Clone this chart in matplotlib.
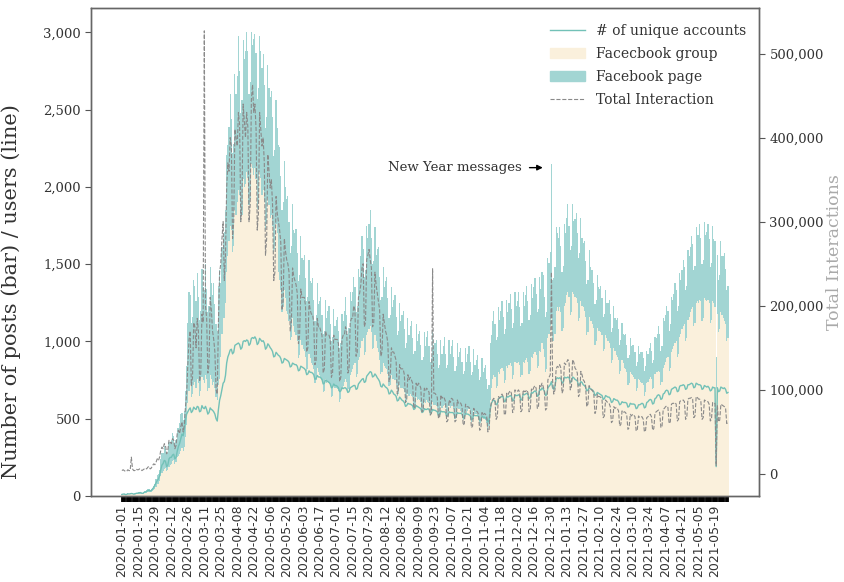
import numpy as np
import pandas as pd
import matplotlib
matplotlib.use("Agg")
import matplotlib.pyplot as plt
from matplotlib.lines import Line2D
from matplotlib.patches import Patch
from matplotlib.ticker import FuncFormatter

# daily counts from 2020-01-01, one line per week (Wed .. Tue)
group_posts = [
    8, 10, 9, 8, 8, 11, 10,
    11, 13, 12, 10, 11, 13, 14,
    14, 16, 15, 13, 14, 17, 18,
    22, 26, 28, 24, 26, 32, 38,
    45, 60, 75, 80, 95, 130, 150,
    160, 175, 180, 160, 165, 190, 200,
    210, 225, 230, 210, 220, 250, 260,
    270, 290, 310, 290, 320, 380, 460,
    600, 680, 720, 640, 660, 720, 740,
    700, 760, 730, 650, 680, 770, 750,
    730, 780, 760, 680, 700, 780, 760,
    720, 740, 700, 640, 620, 720, 760,
    900, 1050, 1150, 1150, 1250, 1450, 1550,
    1650, 1750, 1720, 1580, 1620, 1850, 1820,
    1900, 1980, 1950, 1780, 1820, 2050, 2000,
    2020, 2100, 2060, 1880, 1920, 2150, 2120,
    2080, 2120, 2050, 1860, 1900, 2100, 2060,
    1950, 1980, 1900, 1720, 1760, 1930, 1880,
    1800, 1820, 1750, 1580, 1600, 1760, 1700,
    1450, 1400, 1330, 1190, 1220, 1330, 1280,
    1200, 1180, 1130, 1010, 1030, 1150, 1100,
    1060, 1040, 1000, 890, 910, 1010, 980,
    950, 940, 900, 810, 820, 920, 890,
    860, 850, 820, 730, 750, 830, 800,
    780, 770, 750, 670, 680, 760, 730,
    740, 730, 710, 640, 650, 720, 700,
    700, 690, 680, 610, 630, 700, 710,
    740, 760, 740, 670, 690, 780, 800,
    820, 850, 860, 770, 790, 880, 900,
    960, 1000, 1020, 910, 930, 1040, 1060,
    1080, 1100, 1060, 950, 960, 1040, 1000,
    960, 930, 880, 790, 800, 860, 840,
    830, 820, 790, 710, 720, 780, 760,
    760, 750, 720, 650, 660, 720, 700,
    700, 690, 670, 600, 610, 660, 650,
    660, 650, 640, 570, 580, 640, 620,
    630, 620, 610, 550, 560, 610, 600,
    620, 610, 600, 540, 550, 610, 590,
    590, 580, 570, 510, 520, 580, 570,
    580, 590, 570, 510, 520, 580, 570,
    580, 580, 560, 500, 510, 570, 560,
    560, 550, 540, 490, 500, 550, 540,
    550, 560, 540, 480, 490, 550, 530,
    530, 520, 510, 460, 470, 510, 500,
    500, 490, 470, 430, 450, 620, 700,
    760, 780, 770, 700, 710, 800, 790,
    820, 830, 810, 730, 750, 840, 830,
    850, 860, 840, 760, 780, 870, 860,
    860, 870, 850, 770, 780, 870, 860,
    880, 890, 870, 790, 810, 900, 890,
    920, 930, 910, 830, 840, 940, 930,
    990, 950, 900, 800, 820, 1020, 1050,
    1100, 1150, 1000, 1000, 1050, 1200, 1220,
    1200, 1220, 1190, 1070, 1090, 1230, 1250,
    1300, 1320, 1290, 1170, 1190, 1320, 1310,
    1290, 1280, 1250, 1130, 1150, 1260, 1230,
    1220, 1200, 1160, 1040, 1060, 1160, 1130,
    1130, 1110, 1090, 980, 1000, 1090, 1070,
    1070, 1060, 1040, 940, 950, 1040, 1020,
    1000, 990, 960, 860, 880, 960, 940,
    910, 900, 880, 790, 810, 880, 860,
    830, 820, 800, 720, 730, 800, 790,
    780, 770, 760, 680, 700, 760, 750,
    740, 730, 720, 650, 670, 730, 740,
    760, 770, 760, 690, 700, 790, 800,
    800, 810, 800, 720, 740, 830, 850,
    870, 890, 900, 810, 830, 930, 950,
    970, 990, 1000, 900, 920, 1030, 1050,
    1080, 1100, 1110, 1000, 1020, 1140, 1160,
    1190, 1210, 1220, 1100, 1120, 1250, 1260,
    1250, 1270, 1260, 1130, 1150, 1280, 1270,
    1260, 1270, 1250, 1120, 1140, 1260, 1250,
    1220, 700, 1180, 1060, 1080, 1190, 1170,
    1150, 1130, 1110, 1000, 1020,
]

page_posts = [
    4, 5, 6, 4, 4, 6, 5,
    7, 8, 9, 6, 7, 9, 8,
    9, 11, 10, 8, 9, 12, 12,
    15, 18, 20, 16, 18, 22, 26,
    35, 50, 60, 60, 75, 110, 130,
    120, 150, 125, 110, 115, 160, 150,
    150, 180, 160, 135, 140, 190, 180,
    200, 240, 230, 200, 230, 300, 380,
    520, 640, 580, 480, 500, 680, 620,
    560, 680, 560, 490, 520, 700, 600,
    600, 720, 580, 510, 530, 700, 620,
    580, 640, 540, 470, 450, 640, 700,
    480, 560, 520, 560, 600, 760, 720,
    740, 850, 720, 640, 660, 880, 780,
    820, 1000, 800, 700, 740, 900, 830,
    860, 900, 820, 720, 760, 850, 800,
    880, 870, 820, 710, 740, 880, 820,
    820, 880, 760, 660, 690, 860, 760,
    780, 800, 700, 620, 640, 800, 680,
    820, 860, 740, 660, 680, 840, 720,
    720, 760, 640, 560, 590, 740, 620,
    640, 690, 570, 500, 520, 670, 560,
    580, 620, 510, 450, 470, 610, 500,
    520, 560, 450, 400, 420, 550, 440,
    480, 520, 420, 380, 390, 510, 420,
    460, 500, 400, 360, 380, 490, 400,
    440, 470, 390, 350, 360, 480, 420,
    460, 530, 430, 380, 400, 540, 460,
    500, 570, 490, 420, 440, 590, 520,
    590, 680, 580, 510, 530, 710, 610,
    680, 750, 610, 550, 560, 700, 560,
    640, 680, 540, 480, 490, 620, 510,
    560, 600, 490, 440, 450, 570, 460,
    510, 550, 440, 390, 410, 530, 430,
    470, 510, 410, 360, 380, 490, 390,
    440, 480, 380, 350, 360, 470, 380,
    420, 450, 370, 330, 340, 450, 370,
    410, 460, 370, 330, 340, 450, 360,
    400, 430, 350, 320, 330, 430, 350,
    390, 440, 350, 320, 330, 430, 350,
    390, 430, 340, 310, 330, 420, 340,
    370, 410, 330, 300, 310, 410, 330,
    370, 410, 330, 300, 310, 400, 320,
    350, 390, 310, 290, 300, 380, 300,
    330, 360, 290, 260, 270, 370, 340,
    370, 420, 340, 310, 320, 420, 350,
    380, 430, 350, 320, 330, 430, 360,
    400, 450, 370, 330, 340, 450, 370,
    400, 450, 370, 330, 340, 450, 370,
    420, 470, 390, 350, 360, 470, 390,
    430, 480, 400, 360, 370, 480, 410,
    460, 480, 390, 360, 370, 520, 460,
    480, 1000, 400, 410, 430, 540, 480,
    470, 520, 430, 380, 400, 530, 450,
    500, 570, 460, 420, 430, 570, 470,
    500, 550, 450, 410, 420, 540, 440,
    420, 450, 360, 330, 340, 430, 350,
    330, 350, 290, 260, 270, 340, 280,
    270, 300, 240, 220, 230, 290, 230,
    250, 280, 220, 200, 210, 270, 210,
    230, 250, 200, 190, 200, 240, 190,
    210, 230, 180, 170, 180, 220, 180,
    200, 210, 170, 160, 170, 210, 170,
    190, 200, 170, 160, 170, 210, 180,
    200, 220, 180, 170, 180, 240, 220,
    250, 290, 250, 220, 230, 320, 280,
    300, 340, 300, 260, 280, 360, 320,
    340, 390, 330, 300, 310, 410, 350,
    380, 430, 370, 330, 340, 450, 390,
    420, 470, 410, 360, 370, 490, 430,
    440, 490, 410, 370, 380, 490, 420,
    450, 490, 410, 360, 370, 490, 410,
    430, 200, 380, 340, 350, 460, 380,
    400, 440, 360, 330, 340,
]

unique_accounts = [
    10, 12, 13, 9, 10, 14, 13,
    14, 16, 15, 12, 13, 17, 18,
    19, 21, 22, 17, 18, 24, 26,
    30, 34, 38, 32, 36, 45, 55,
    70, 85, 100, 110, 130, 170, 200,
    210, 230, 225, 190, 200, 240, 250,
    250, 265, 270, 240, 250, 290, 320,
    340, 370, 400, 390, 430, 490, 530,
    545, 560, 570, 540, 550, 575, 565,
    560, 580, 575, 545, 550, 585, 570,
    565, 580, 560, 530, 540, 570, 560,
    555, 545, 530, 500, 485, 560, 620,
    650, 690, 730, 740, 780, 860, 900,
    920, 945, 950, 920, 930, 975, 980,
    985, 990, 980, 950, 960, 1000, 1005,
    1000, 1010, 1005, 975, 985, 1020, 1025,
    1020, 1030, 1015, 980, 990, 1020, 1010,
    1000, 1005, 990, 950, 960, 985, 975,
    960, 950, 935, 900, 905, 930, 920,
    910, 905, 890, 860, 865, 890, 885,
    880, 875, 865, 835, 840, 860, 855,
    850, 850, 840, 810, 815, 840, 835,
    830, 825, 815, 785, 790, 810, 800,
    800, 795, 785, 755, 760, 780, 770,
    770, 765, 755, 725, 730, 750, 745,
    740, 735, 725, 700, 705, 725, 715,
    715, 710, 700, 675, 680, 700, 695,
    700, 700, 690, 670, 675, 700, 705,
    710, 715, 715, 690, 695, 725, 735,
    745, 755, 760, 735, 740, 775, 785,
    795, 805, 800, 770, 775, 790, 780,
    765, 755, 740, 710, 705, 725, 715,
    705, 700, 690, 660, 665, 685, 675,
    660, 655, 645, 615, 620, 640, 630,
    620, 615, 605, 580, 585, 600, 595,
    595, 590, 585, 560, 565, 585, 580,
    575, 570, 565, 540, 545, 565, 560,
    560, 565, 560, 535, 540, 560, 555,
    555, 550, 545, 520, 525, 550, 545,
    545, 545, 540, 515, 520, 545, 540,
    540, 540, 535, 510, 515, 540, 535,
    535, 535, 530, 505, 510, 535, 530,
    530, 525, 520, 495, 500, 525, 520,
    520, 520, 515, 490, 495, 515, 510,
    510, 505, 500, 480, 490, 560, 600,
    615, 620, 615, 590, 595, 630, 635,
    640, 645, 640, 610, 615, 645, 640,
    645, 650, 645, 615, 620, 655, 650,
    650, 655, 650, 620, 625, 660, 655,
    660, 665, 660, 630, 635, 670, 665,
    675, 680, 675, 645, 650, 690, 685,
    700, 690, 680, 650, 655, 700, 710,
    720, 740, 700, 690, 710, 760, 765,
    760, 765, 760, 730, 735, 770, 765,
    765, 770, 765, 735, 740, 770, 765,
    755, 750, 745, 715, 720, 740, 735,
    720, 715, 705, 680, 685, 700, 695,
    690, 685, 675, 650, 655, 670, 665,
    660, 655, 650, 625, 630, 650, 645,
    640, 640, 630, 605, 610, 630, 625,
    620, 620, 610, 590, 595, 610, 605,
    605, 605, 600, 575, 580, 600, 595,
    595, 595, 590, 565, 570, 590, 590,
    595, 600, 595, 570, 575, 605, 610,
    620, 625, 620, 595, 600, 630, 635,
    650, 655, 650, 625, 630, 660, 665,
    680, 685, 680, 655, 660, 690, 695,
    700, 705, 700, 675, 680, 710, 715,
    715, 720, 715, 690, 695, 720, 720,
    725, 730, 725, 700, 705, 730, 725,
    720, 720, 715, 690, 695, 715, 710,
    705, 710, 700, 680, 685, 705, 700,
    700, 190, 700, 675, 680, 705, 700,
    695, 700, 690, 665, 670,
]

# total interactions per day, in thousands
interactions_k = [
    4, 5, 4, 3, 3, 5, 4,
    4, 20, 6, 4, 4, 6, 5,
    5, 6, 6, 4, 5, 6, 7,
    6, 8, 9, 6, 7, 10, 12,
    11, 14, 18, 16, 20, 28, 32,
    30, 36, 34, 24, 28, 40, 38,
    36, 42, 40, 30, 34, 48, 52,
    48, 56, 62, 50, 58, 80, 95,
    130, 160, 170, 105, 115, 180, 175,
    150, 185, 170, 110, 120, 190, 180,
    527, 200, 185, 120, 130, 210, 195,
    170, 160, 145, 100, 95, 180, 240,
    250, 280, 300, 230, 260, 340, 370,
    360, 400, 390, 280, 300, 410, 400,
    390, 430, 415, 300, 320, 440, 420,
    400, 430, 413, 300, 320, 445, 463,
    430, 440, 410, 290, 310, 430, 410,
    390, 400, 370, 260, 280, 380, 360,
    340, 350, 320, 230, 240, 330, 310,
    300, 290, 275, 195, 205, 280, 265,
    255, 250, 240, 170, 180, 245, 235,
    230, 225, 215, 155, 165, 220, 210,
    210, 210, 200, 145, 150, 205, 195,
    190, 190, 180, 130, 135, 185, 175,
    175, 170, 165, 120, 125, 170, 165,
    165, 165, 160, 115, 120, 165, 160,
    160, 160, 155, 110, 115, 160, 165,
    165, 175, 170, 120, 125, 180, 185,
    185, 200, 195, 140, 145, 210, 215,
    225, 245, 250, 175, 180, 255, 260,
    267, 255, 245, 175, 180, 240, 225,
    215, 205, 195, 140, 145, 190, 180,
    170, 165, 155, 110, 115, 150, 145,
    145, 140, 135, 95, 100, 130, 125,
    125, 125, 118, 85, 88, 118, 112,
    115, 112, 108, 78, 80, 108, 104,
    108, 106, 102, 74, 76, 102, 99,
    102, 100, 97, 70, 72, 244, 96,
    96, 94, 91, 66, 68, 94, 90,
    92, 90, 86, 62, 64, 88, 85,
    90, 89, 85, 62, 64, 88, 84,
    85, 84, 80, 58, 60, 83, 80,
    80, 79, 76, 55, 57, 78, 75,
    75, 74, 71, 52, 54, 73, 70,
    72, 71, 68, 50, 52, 78, 85,
    88, 90, 87, 65, 68, 92, 90,
    93, 95, 92, 70, 72, 96, 94,
    97, 99, 96, 73, 76, 100, 98,
    98, 100, 97, 74, 76, 100, 98,
    98, 100, 97, 74, 77, 101, 99,
    103, 105, 102, 78, 80, 106, 104,
    108, 104, 98, 76, 78, 112, 115,
    118, 240, 110, 95, 100, 125, 128,
    127, 130, 126, 96, 100, 132, 130,
    133, 136, 132, 100, 104, 136, 133,
    126, 124, 120, 92, 95, 122, 118,
    112, 110, 105, 80, 83, 105, 102,
    100, 99, 95, 72, 75, 95, 92,
    92, 91, 88, 67, 69, 88, 86,
    85, 84, 80, 61, 63, 80, 78,
    79, 78, 75, 57, 59, 75, 73,
    74, 73, 70, 53, 55, 71, 69,
    71, 70, 68, 51, 53, 69, 67,
    68, 68, 65, 50, 52, 67, 68,
    70, 71, 68, 52, 54, 72, 74,
    75, 76, 73, 55, 57, 77, 78,
    80, 81, 79, 60, 62, 83, 84,
    84, 85, 83, 63, 65, 86, 87,
    87, 88, 86, 65, 67, 89, 90,
    90, 91, 89, 67, 69, 92, 91,
    89, 89, 86, 65, 67, 88, 87,
    86, 86, 83, 63, 65, 85, 84,
    84, 10, 82, 62, 64, 83, 82,
    81, 80, 78, 60, 62,
]

dates = pd.date_range("2020-01-01", periods=len(group_posts), freq="D")
date_labels = [d.strftime("%Y-%m-%d") for d in dates]
new_year = date_labels.index("2020-12-31")

beige = "#faf0dc"
teal = "#a2d5d3"
line_teal = "#72c1b7"
dash_grey = "#8a8a8a"
text_col = "#333333"

plt.rcParams["font.family"] = "DejaVu Serif"

fig = plt.figure(figsize=(8.44, 5.82), dpi=100)
ax = fig.add_axes([0.1078, 0.1478, 0.7915, 0.8376])

x = np.arange(len(dates))
ax.bar(x, group_posts, width=1.0, color=beige, linewidth=0)
ax.bar(x, page_posts, bottom=group_posts, width=1.0, color=teal, linewidth=0)
ax.plot(x, unique_accounts, color=line_teal, lw=1.0)

ax2 = ax.twinx()
ax2.plot(x, np.array(interactions_k) * 1000, color=dash_grey, ls="--", lw=0.8)

ax.set_xlim(-26.3, 541.4)
ax.set_ylim(0, 3155)
ax2.set_ylim(-26200, 553600)

# one tick per day, label every second week
ax.set_xticks(x)
ax.set_xticklabels([lab if i % 14 == 0 else "" for i, lab in enumerate(date_labels)],
                   rotation=90, fontsize=9, family="DejaVu Sans", color=text_col)
ax.tick_params(axis="x", length=4, width=1.3, color="black", pad=2)

comma = FuncFormatter(lambda v, p: f"{v:,.0f}")
ax.set_yticks(np.arange(0, 3001, 500))
ax.yaxis.set_major_formatter(comma)
ax2.set_yticks(np.arange(0, 500001, 100000))
ax2.yaxis.set_major_formatter(comma)
for a in (ax, ax2):
    a.tick_params(axis="y", labelsize=9.5, labelcolor=text_col, length=4, color="#555555")
    for s in a.spines.values():
        s.set_color("#666666")
        s.set_linewidth(1.0)

ax.set_ylabel("Number of posts (bar) / users (line)", fontsize=15, color=text_col)
ax.yaxis.set_label_coords(-0.105, 0.42)
ax2.set_ylabel("Total Interactions", fontsize=12.5, color="#aaaaaa")
ax2.yaxis.set_label_coords(1.1, 0.5)

ax.annotate("", xy=(new_year - 5, 2125), xytext=(new_year - 21, 2125),
            arrowprops=dict(arrowstyle="-|>", color="black", lw=1.0, mutation_scale=8))
ax.text(new_year - 25, 2125, "New Year messages", ha="right", va="center",
        fontsize=9.5, color=text_col)

handles = [
    Line2D([], [], color=line_teal, lw=1.0),
    Patch(color=beige),
    Patch(color=teal),
    Line2D([], [], color=dash_grey, ls="--", lw=0.8),
]
names = ["# of unique accounts", "Facecbook group", "Facebook page", "Total Interaction"]
leg = ax2.legend(handles, names, loc="upper right", frameon=False, fontsize=10,
                 bbox_to_anchor=(1.0, 0.994), handlelength=2.5, labelspacing=0.65)
for t in leg.get_texts():
    t.set_color(text_col)

fig.savefig("out.png", dpi=100)
